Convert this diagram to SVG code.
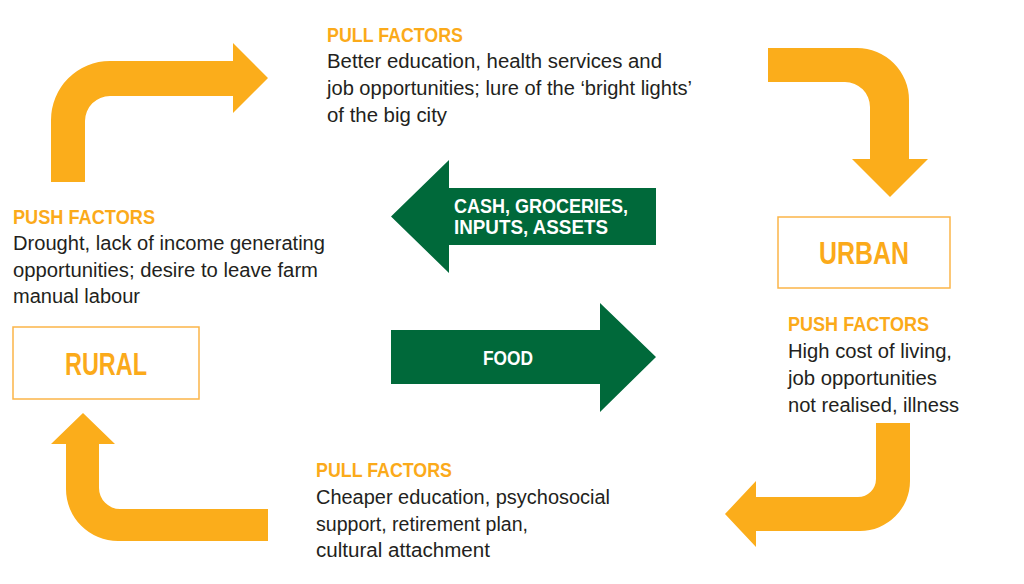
<svg xmlns="http://www.w3.org/2000/svg" width="1024" height="584" viewBox="0 0 1024 584">
<style>
.arrow{fill:#FBAD1B}
.garrow{fill:#00693A}
.box{fill:#fff;stroke:#FBB548;stroke-width:1.5}
.hd{font-family:"Liberation Sans",Arial,sans-serif;font-weight:bold;font-size:21px;fill:#FBAA1A}
.tx{font-family:"Liberation Sans",Arial,sans-serif;font-size:19.5px;fill:#231F20}
.big{font-family:"Liberation Sans",Arial,sans-serif;font-weight:bold;font-size:31px;fill:#FBAA1A}
.gt{font-family:"Liberation Sans",Arial,sans-serif;font-weight:bold;font-size:20.5px;fill:#fff}
</style>
<rect width="1024" height="584" fill="#fff"/>
<g id="connectors">
  <path id="arrow-top-left" class="arrow" d="M51,182 V120 A59,59 0 0 1 110,61 H233 V43 L268,78 L233,113 V96 H110 A25,25 0 0 0 85,121 V182 Z"/>
  <path id="arrow-top-right" class="arrow" d="M768,48 H857 A52,52 0 0 1 909,100 V159 H928 L890,197 L852,159 H870 V107 A25,25 0 0 0 845,82 H768 Z"/>
  <path id="arrow-bottom-right" class="arrow" d="M876,423 H910 V481 A50,50 0 0 1 860,531 H756 V547 L725,514 L756,481 V497 H858 A18,18 0 0 0 876,479 Z"/>
  <path id="arrow-bottom-left" class="arrow" d="M268,509 V541 H118 A52,52 0 0 1 66,489 V444 H51 L83,413 L115,444 H99 V488 A21,21 0 0 0 120,509 Z"/>
  <g id="flow-cash">
    <path class="garrow" d="M391,216.5 L449,160 V188 H656 V245 H449 V273 Z"/>
    <text class="gt" x="454" y="213" textLength="174" lengthAdjust="spacingAndGlyphs">CASH, GROCERIES,</text>
    <text class="gt" x="454" y="234" textLength="154" lengthAdjust="spacingAndGlyphs">INPUTS, ASSETS</text>
  </g>
  <g id="flow-food">
    <path class="garrow" d="M391,330 H600 V303 L656,357 L600,412 V384 H391 Z"/>
    <text class="gt" x="483" y="365" textLength="50" lengthAdjust="spacingAndGlyphs">FOOD</text>
  </g>
</g>
<g id="rural">
  <rect class="box" x="13" y="327" width="186" height="72"/>
  <text class="big" x="65" y="375" textLength="82" lengthAdjust="spacingAndGlyphs">RURAL</text>
</g>
<g id="urban">
  <rect class="box" x="778" y="217" width="172" height="71"/>
  <text class="big" x="819" y="264" textLength="90" lengthAdjust="spacingAndGlyphs">URBAN</text>
</g>
<g id="pull-urban">
  <text class="hd" x="327" y="42" textLength="136" lengthAdjust="spacingAndGlyphs">PULL FACTORS</text>
  <text class="tx" x="327" y="68" textLength="335" lengthAdjust="spacingAndGlyphs">Better education, health services and</text>
  <text class="tx" x="327" y="95" textLength="365" lengthAdjust="spacingAndGlyphs">job opportunities; lure of the ‘bright lights’</text>
  <text class="tx" x="327" y="122" textLength="120" lengthAdjust="spacingAndGlyphs">of the big city</text>
</g>
<g id="push-rural">
  <text class="hd" x="13" y="224" textLength="142" lengthAdjust="spacingAndGlyphs">PUSH FACTORS</text>
  <text class="tx" x="13" y="250" textLength="312" lengthAdjust="spacingAndGlyphs">Drought, lack of income generating</text>
  <text class="tx" x="13" y="277" textLength="305" lengthAdjust="spacingAndGlyphs">opportunities; desire to leave farm</text>
  <text class="tx" x="13" y="303" textLength="127" lengthAdjust="spacingAndGlyphs">manual labour</text>
</g>
<g id="push-urban">
  <text class="hd" x="788" y="331" textLength="141" lengthAdjust="spacingAndGlyphs">PUSH FACTORS</text>
  <text class="tx" x="788" y="358" textLength="164" lengthAdjust="spacingAndGlyphs">High cost of living,</text>
  <text class="tx" x="788" y="385" textLength="149" lengthAdjust="spacingAndGlyphs">job opportunities</text>
  <text class="tx" x="788" y="412" textLength="171" lengthAdjust="spacingAndGlyphs">not realised, illness</text>
</g>
<g id="pull-rural">
  <text class="hd" x="316" y="477" textLength="136" lengthAdjust="spacingAndGlyphs">PULL FACTORS</text>
  <text class="tx" x="316" y="504" textLength="294" lengthAdjust="spacingAndGlyphs">Cheaper education, psychosocial</text>
  <text class="tx" x="316" y="531" textLength="212" lengthAdjust="spacingAndGlyphs">support, retirement plan,</text>
  <text class="tx" x="316" y="557" textLength="174" lengthAdjust="spacingAndGlyphs">cultural attachment</text>
</g>
</svg>
